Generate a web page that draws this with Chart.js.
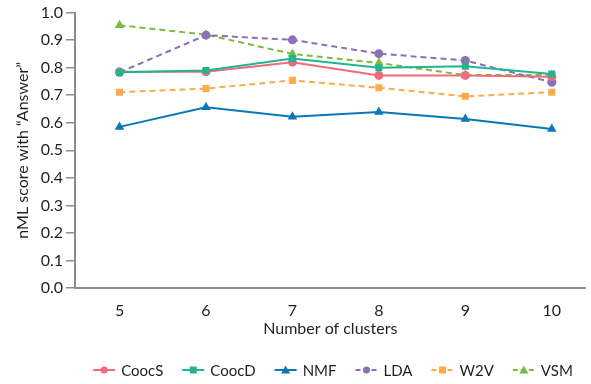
<!DOCTYPE html>
<html>
<head>
<meta charset="utf-8">
<script src="https://cdn.jsdelivr.net/npm/chart.js@4/dist/chart.umd.min.js"></script>
<style>
  html, body { margin: 0; padding: 0; background: #fff; }
  #wrap { width: 591px; height: 384px; position: relative; }
</style>
</head>
<body>
<div id="wrap"><canvas id="scoreChart"></canvas></div>
<script>
"use strict";

const CLUSTERS = [5, 6, 7, 8, 9, 10];
const Y_TICKS = [0, 0.1, 0.2, 0.3, 0.4, 0.5, 0.6, 0.7, 0.8, 0.9, 1.0];

const COOCS = [0.785, 0.785, 0.82, 0.772, 0.772, 0.767];
const COOCD = [0.783, 0.79, 0.833, 0.8, 0.805, 0.777];
const NMF = [0.585, 0.656, 0.622, 0.639, 0.614, 0.577];
const LDA = [0.783, 0.918, 0.901, 0.851, 0.826, 0.747];
const W2V = [0.711, 0.724, 0.754, 0.727, 0.696, 0.711];
const VSM = [0.954, 0.92, 0.85, 0.817, 0.773, 0.773];

const SERIES = [
  { label: "CoocS", values: COOCS, color: "#ee6b7e", point: "circle", dashed: false, order: 1 },
  { label: "CoocD", values: COOCD, color: "#22b58f", point: "rect", dashed: false, order: 0 },
  { label: "NMF", values: NMF, color: "#0b77b7", point: "triangle", dashed: false, order: 2 },
  { label: "LDA", values: LDA, color: "#8a70b6", point: "circle", dashed: true, order: 3 },
  { label: "W2V", values: W2V, color: "#fbac48", point: "rect", dashed: true, order: 4 },
  { label: "VSM", values: VSM, color: "#7bbb42", point: "triangle", dashed: true, order: 5 }
];

const FONT = "Lato";
const AXIS_GREY = "#8c8c8c";
const TEXT = "#231f20";

function pointRadius(style) {
  if (style === "rect") return 5;
  if (style === "triangle") return 5.5;
  return 4.5;
}

// legend: short line with a marker in the middle, centred under the plot
const lineLegend = {
  id: "lineLegend",
  afterDraw(chart) {
    const ctx = chart.ctx;
    const area = chart.chartArea;
    ctx.save();
    ctx.font = `15px ${FONT}`;
    ctx.textBaseline = "middle";
    const lineLen = 22, gapText = 6, gapItem = 19;
    const widths = SERIES.map(s => lineLen + gapText + ctx.measureText(s.label).width);
    const total = widths.reduce((a, b) => a + b, 0) + gapItem * (SERIES.length - 1);
    let x = (area.left + 591) / 2 - total / 2;
    const y = 370;
    SERIES.forEach((s, i) => {
      ctx.strokeStyle = s.color;
      ctx.fillStyle = s.color;
      ctx.lineWidth = 2;
      ctx.setLineDash(s.dashed ? [5, 3] : []);
      ctx.beginPath();
      ctx.moveTo(x, y);
      ctx.lineTo(x + lineLen, y);
      ctx.stroke();
      ctx.setLineDash([]);
      const cx = x + lineLen / 2;
      ctx.beginPath();
      if (s.point === "circle") {
        ctx.arc(cx, y, 3.5, 0, Math.PI * 2);
      } else if (s.point === "rect") {
        ctx.rect(cx - 3.5, y - 3.5, 7, 7);
      } else {
        ctx.moveTo(cx, y - 4.5);
        ctx.lineTo(cx + 4.5, y + 3.5);
        ctx.lineTo(cx - 4.5, y + 3.5);
        ctx.closePath();
      }
      ctx.fill();
      ctx.fillStyle = TEXT;
      ctx.fillText(s.label, x + lineLen + gapText, y + 1);
      x += widths[i] + gapItem;
    });
    ctx.restore();
  }
};

const datasets = SERIES.map(s => ({
  label: s.label,
  data: CLUSTERS.map((c, i) => ({ x: c, y: s.values[i] })),
  borderColor: s.color,
  backgroundColor: s.color,
  borderWidth: 2,
  borderDash: s.dashed ? [6, 4] : [],
  pointStyle: s.point,
  pointRadius: pointRadius(s.point),
  pointBorderWidth: 0,
  tension: 0,
  order: s.order
}));

new Chart(document.getElementById("scoreChart"), {
  type: "line",
  data: { datasets },
  plugins: [lineLegend],
  options: {
    responsive: true,
    maintainAspectRatio: false,
    animation: false,
    layout: { padding: { top: 12, right: 0, left: 0, bottom: 0 } },
    plugins: {
      legend: { display: false },
      tooltip: { enabled: false }
    },
    scales: {
      x: {
        type: "linear",
        min: 4.485,
        max: 10.39,
        afterBuildTicks: scale => {
          scale.ticks = CLUSTERS.map(v => ({ value: v }));
        },
        afterFit: scale => { scale.height = 96; },
        grid: { display: false },
        border: { color: AXIS_GREY, width: 2 },
        ticks: {
          padding: 5,
          color: TEXT,
          font: { family: FONT, size: 16 },
          callback: v => String(v)
        },
        title: {
          display: true,
          text: "Number of clusters",
          color: TEXT,
          font: { family: FONT, size: 16 },
          padding: { top: 0, bottom: 46 }
        }
      },
      y: {
        min: 0,
        max: 1,
        afterBuildTicks: scale => {
          scale.ticks = Y_TICKS.map(v => ({ value: v }));
        },
        afterFit: scale => { scale.width = 75; },
        grid: {
          display: true,
          drawOnChartArea: false,
          drawTicks: true,
          tickLength: 9,
          color: AXIS_GREY,
          lineWidth: 1.5
        },
        border: { color: AXIS_GREY, width: 2 },
        ticks: {
          padding: 3,
          color: TEXT,
          font: { family: FONT, size: 16 },
          callback: v => Number(v).toFixed(1)
        },
        title: {
          display: true,
          text: "nML score with \u201CAnswer\u201D",
          color: TEXT,
          font: { family: FONT, size: 16 },
          padding: { top: 13, bottom: 0 }
        }
      }
    }
  }
});
</script>
</body>
</html>
